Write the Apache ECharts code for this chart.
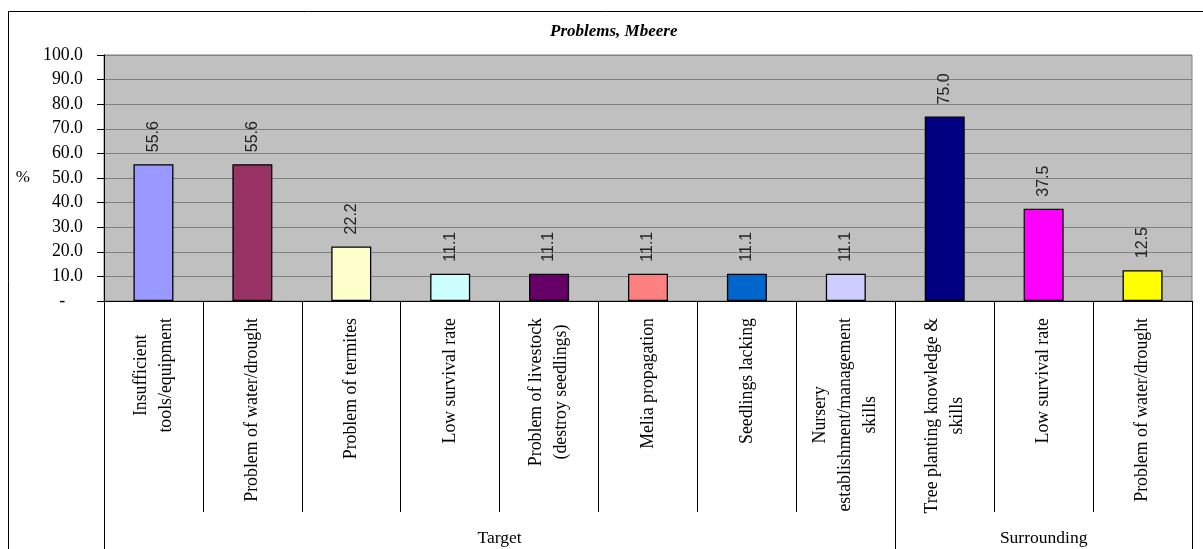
<!DOCTYPE html>
<html>
<head>
<meta charset="utf-8">
<title>Problems, Mbeere</title>
<script src="https://cdn.jsdelivr.net/npm/echarts@6/dist/echarts.min.js"></script>
<style>
  html, body { margin: 0; padding: 0; background: #fff; }
  #chart { width: 1203px; height: 549px; }
</style>
</head>
<body>
<div id="chart"></div>
<script>
// Problems reported, grouped by farmer category
const categories = [
  'Insufficient\ntools/equipment',
  'Problem of water/drought',
  'Problem of termites',
  'Low survival rate',
  'Problem of livestock\n(destroy seedlings)',
  'Melia propagation',
  'Seedlings lacking',
  'Nursery\nestablishment/management\nskills',
  'Tree planting knowledge &\nskills',
  'Low survival rate',
  'Problem of water/drought'
];
const values = [55.6, 55.6, 22.2, 11.1, 11.1, 11.1, 11.1, 11.1, 75.0, 37.5, 12.5];
const barColors = ['#9999FF', '#993366', '#FFFFCC', '#CCFFFF', '#660066', '#FF8080',
                   '#0066CC', '#CCCCFF', '#000080', '#FF00FF', '#FFFF00'];
// group name, first category index, number of categories
const groupNames = ['Target', 'Surrounding'];
const groupStarts = [0, 8];
const groupSizes = [8, 3];
const yTicks = [0, 10, 20, 30, 40, 50, 60, 70, 80, 90, 100];

const serif = 'Liberation Serif';
const n = categories.length;

// centre of each group, in category units along the axis
const groupCentres = groupStarts.map((s, i) => s + groupSizes[i] / 2);

const chart = echarts.init(document.getElementById('chart'), null, { renderer: 'canvas' });

chart.setOption({
  animation: false,
  backgroundColor: '#fff',
  title: {
    text: 'Problems, Mbeere',
    left: 545,
    top: 18,
    textStyle: { fontFamily: serif, fontStyle: 'italic', fontWeight: 'bold', fontSize: 17, color: '#000' }
  },
  graphic: [{
    type: 'rect',
    shape: { x: 8.5, y: 11.5, width: 1208, height: 600 },
    style: { fill: null, stroke: '#000', lineWidth: 1 },
    silent: true,
    z: 100
  }],
  grid: {
    left: 104, right: 11, top: 55, bottom: 248,
    show: true,
    backgroundColor: '#C0C0C0',
    borderColor: '#808080',
    borderWidth: 1
  },
  xAxis: [
    {
      // category labels with separators between them
      type: 'category',
      data: categories,
      position: 'bottom',
      axisLine: { show: true, lineStyle: { color: '#000', width: 1 } },
      axisTick: { show: true, interval: 0, length: 211, lineStyle: { color: '#000', width: 1 } },
      axisLabel: {
        interval: 0,
        rotate: 90,
        margin: 17,
        fontFamily: serif,
        fontSize: 17.8,
        color: '#000',
        formatter: (v) => v.split('\n').map(s => '{c|' + s + '}').join('\n'),
        rich: { c: { align: 'center', fontFamily: serif, fontSize: 17.8, lineHeight: 25, color: '#000' } }
      },
      splitLine: { show: false }
    },
    {
      // group boundaries running to the bottom of the chart
      type: 'category',
      data: categories,
      position: 'bottom',
      axisLine: { show: false },
      axisTick: {
        show: true,
        interval: (i) => groupStarts.indexOf(i) >= 0,
        length: 260,
        lineStyle: { color: '#000', width: 1 }
      },
      axisLabel: { show: false },
      splitLine: { show: false }
    },
    {
      // group names centred under each group
      type: 'value',
      min: 0,
      max: n,
      interval: 0.5,
      position: 'bottom',
      axisLine: { show: false },
      axisTick: { show: false },
      splitLine: { show: false },
      axisLabel: {
        show: true,
        margin: 228,
        showMinLabel: true,
        showMaxLabel: true,
        fontFamily: serif,
        fontSize: 17.5,
        color: '#000',
        formatter: (v) => {
          const k = groupCentres.indexOf(v);
          return k >= 0 ? groupNames[k] : '';
        }
      }
    }
  ],
  yAxis: {
    type: 'value',
    min: yTicks[0],
    max: yTicks[yTicks.length - 1],
    interval: 10,
    name: '%',
    nameLocation: 'middle',
    nameRotate: 0,
    nameGap: 74,
    nameTextStyle: { fontFamily: serif, fontSize: 17, color: '#000' },
    axisLine: { show: true, lineStyle: { color: '#000', width: 1 } },
    axisTick: { show: true, length: 7, lineStyle: { color: '#000' } },
    axisLabel: {
      margin: 21,
      fontFamily: serif,
      fontSize: 17.8,
      color: '#000',
      formatter: (v) => (v === 0 ? '-    ' : v.toFixed(1))
    },
    splitLine: { show: true, lineStyle: { color: '#808080', width: 1 } }
  },
  series: [{
    type: 'bar',
    xAxisIndex: 0,
    barWidth: 40,
    data: values.map((v, i) => ({
      value: v,
      itemStyle: { color: barColors[i], borderColor: '#000', borderWidth: 1.3 }
    })),
    label: {
      show: true,
      position: 'top',
      rotate: 90,
      align: 'left',
      verticalAlign: 'middle',
      distance: 12,
      fontFamily: 'Liberation Sans',
      fontSize: 16,
      color: '#222',
      formatter: (p) => p.value.toFixed(1)
    }
  }]
});
</script>
</body>
</html>
